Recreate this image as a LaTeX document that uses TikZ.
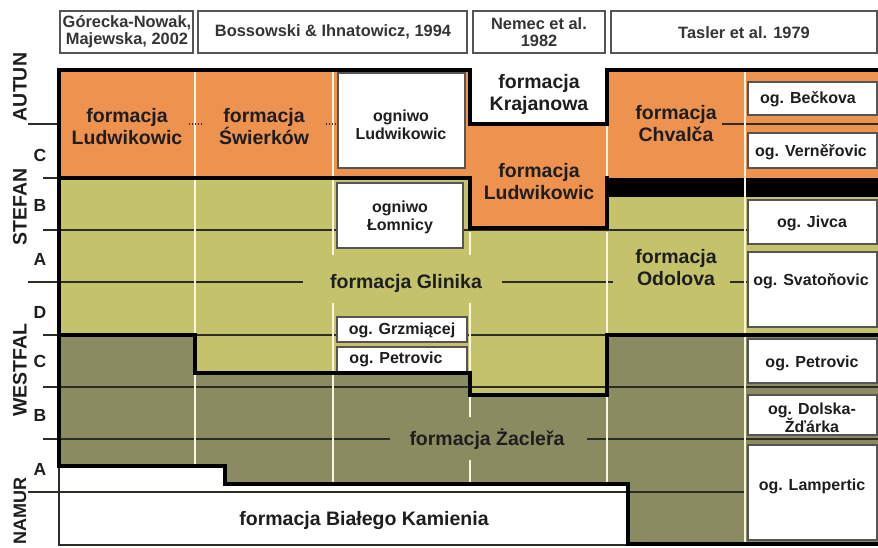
\documentclass[tikz,border=0pt]{standalone}
\usepackage{fontspec}
\setmainfont{Liberation Sans}
\definecolor{orng}{RGB}{238,146,80}
\definecolor{olvL}{RGB}{197,194,108}
\definecolor{olvD}{RGB}{139,139,98}
\definecolor{cream}{RGB}{250,246,222}
\definecolor{bxgray}{RGB}{85,85,85}
\definecolor{txt}{RGB}{30,30,30}
\definecolor{thinc}{RGB}{45,45,40}
\tikzset{
  thk/.style={line width=3.2pt, black, line join=miter, line cap=rect},
  thn/.style={line width=1.1pt, thinc},
  divd/.style={line width=2.6pt, cream},
  obox/.style={draw=bxgray, line width=1.6pt, fill=white},
  hbox/.style={draw=bxgray, line width=2.2pt, fill=white},
  flab/.style={font=\bfseries\fontsize{19.5}{22}\selectfont, align=center, inner sep=0pt, text=txt},
  slab/.style={font=\bfseries\fontsize{16}{18}\selectfont, align=center, inner sep=0pt, text=txt},
  hlab/.style={font=\bfseries\fontsize{16.4}{17}\selectfont, align=center, inner sep=0pt, text=txt!90!white},
  sidelab/.style={font=\bfseries\fontsize{19.5}{20}\selectfont, rotate=90, inner sep=0pt, text=txt},
  letlab/.style={font=\bfseries\fontsize{17.5}{18}\selectfont, inner sep=0pt, text=txt},
}
\begin{document}
\begin{tikzpicture}[x=1pt,y=-1pt]
\useasboundingbox (0,0) rectangle (878,547);
\fill[white] (0,0) rectangle (878,547);
% ---- fills
\fill[olvL] (59,178) rectangle (878,545);
\fill[olvD] (59,335) -- (195,335) -- (195,373) -- (470,373) -- (470,395) -- (607,395) -- (607,335) -- (878,335) -- (878,545) -- (59,545) -- cycle;
\fill[white] (59,466) -- (225,466) -- (225,484) -- (628,484) -- (628,545) -- (59,545) -- cycle;
\fill[orng] (59,70) -- (470,70) -- (470,124) -- (607,124) -- (607,70) -- (878,70) -- (878,178) -- (607,178) -- (607,228) -- (470,228) -- (470,178) -- (59,178) -- cycle;
\fill[black] (607,178) rectangle (878,197);
% ---- thin boundary lines
\draw[thn] (28,124) -- (59,124);
\draw[thn] (722,124) -- (878,124);
\draw[thn] (43,178) -- (59,178);
\draw[thn] (43,230) -- (878,230);
\draw[thn, line width=1.6pt] (28,282) -- (303,282);
\draw[thn, line width=1.6pt] (502,282) -- (613,282);
\draw[thn, line width=1.6pt] (730,282) -- (750,282);
\draw[thn] (43,335) -- (878,335);
\draw[thn] (43,387) -- (878,387);
\draw[thn] (43,439) -- (390,439);
\draw[thn] (587,439) -- (878,439);
\draw[thn] (28,492) -- (745,492);
\draw[thn, line width=1.4pt] (59,466) -- (59,545) -- (628,545);
% ---- column dividers
\draw[divd] (195,72) -- (195,464);
\draw[divd] (333,72) -- (333,255);
\draw[divd] (333,303) -- (333,482);
\draw[divd] (470,232) -- (470,255);
\draw[divd] (470,303) -- (470,371);
\draw[divd] (470,397) -- (470,417);
\draw[divd] (470,460) -- (470,482);
\draw[divd] (607,126) -- (607,176);
\draw[divd] (607,232) -- (607,333);
\draw[divd] (607,397) -- (607,482);
\draw[divd] (745,72) -- (745,545);
\draw[thn, dotted, line width=1.3pt] (189,124) -- (202,124);
\draw[thn, dotted, line width=1.3pt] (326,124) -- (339,124);
% ---- white boxes
\draw[hbox] (60,11) rectangle (193,53);
\draw[hbox] (198,11) rectangle (467,53);
\draw[hbox] (473,11) rectangle (605,53);
\draw[hbox] (611,11) rectangle (877,53);
\draw[obox] (338,73) rectangle (465,168);
\draw[obox] (337,183) rectangle (463,248);
\draw[obox] (337,317) rectangle (467,342);
\draw[obox] (337,347) rectangle (467,372);
\draw[obox] (748,82) rectangle (877,115);
\draw[obox] (748,133) rectangle (877,168);
\draw[obox] (748,200) rectangle (877,244);
\draw[obox] (748,252) rectangle (877,327);
\draw[obox] (748,339) rectangle (877,383);
\draw[obox] (748,395) rectangle (877,435);
\draw[obox] (748,445) rectangle (877,540);
% ---- thick outlines
\draw[thk] (59,466) -- (59,70) -- (470,70) -- (470,124) -- (607,124) -- (607,70) -- (878,70);
\draw[thk] (59,178) -- (470,178);
\draw[thk] (470,178) -- (470,228) -- (607,228) -- (607,178);
\draw[thk] (59,335) -- (195,335) -- (195,373) -- (470,373) -- (470,395) -- (607,395) -- (607,335) -- (878,335);
\draw[thk] (59,466) -- (225,466) -- (225,484) -- (628,484) -- (628,544) -- (878,544);
% ---- headers
\node[hlab] (h1) at (127,32) {Górecka-Nowak,\\Majewska, 2002};
\node[hlab] (h2) at (333,32) {Bossowski \& Ihnatowicz, 1994};
\node[hlab] (h3) at (539,32) {Nemec et al.\\1982};
\node[hlab] (h4) at (744,33) {Tasler et al. 1979};
% ---- side labels
\node[sidelab] (autun) at (20,87) {AUTUN};
\node[sidelab] (stefan) at (20,207) {STEFAN};
\node[sidelab] (westfal) at (20,370) {WESTFAL};
\node[sidelab, font=\bfseries\fontsize{18}{19}\selectfont] (namur) at (20,511) {NAMUR};
\node[letlab] (sc) at (40,155) {C};
\node[letlab] (sb) at (40,205) {B};
\node[letlab] (sa) at (40,259) {A};
\node[letlab] (wd) at (40,312) {D};
\node[letlab] (wc) at (40,361) {C};
\node[letlab] (wb) at (40,415) {B};
\node[letlab] (wa) at (40,469) {A};
% ---- formation labels
\node[flab] (fLud1) at (127,127) {formacja\\Ludwikowic};
\node[flab] (fSwi) at (264,127) {formacja\\Świerków};
\node[flab] (fKra) at (539,94) {formacja\\Krajanowa};
\node[flab] (fLud2) at (539,182) {formacja\\Ludwikowic};
\node[flab] (fChv) at (676,124) {formacja\\Chvalča};
\node[flab] (fGli) at (406,283) {formacja Glinika};
\node[flab] (fOdo) at (676,268) {formacja\\Odolova};
\node[flab] (fZac) at (487,439) {formacja Żacleřa};
\node[flab] (fBia) at (364,520) {formacja Białego Kamienia};
% ---- member labels
\node[slab] (oLud) at (401,125) {ogniwo\\Ludwikowic};
\node[slab] (oLom) at (400,217) {ogniwo\\Łomnicy};
\node[slab] (oGrz) at (402,330) {og. Grzmiącej};
\node[slab] (oPet1) at (396,359) {og. Petrovic};
\node[slab] (oBec) at (808,99) {og. Bečkova};
\node[slab] (oVer) at (811,152) {og. Verněřovic};
\node[slab] (oJiv) at (812,223) {og. Jivca};
\node[slab] (oSva) at (811,281) {og. Svatoňovic};
\node[slab] (oPet2) at (812,363) {og. Petrovic};
\node[slab] (oDol) at (812,418) {og. Dolska-\\Žďárka};
\node[slab] (oLam) at (812,486) {og. Lampertic};
\end{tikzpicture}
\end{document}
